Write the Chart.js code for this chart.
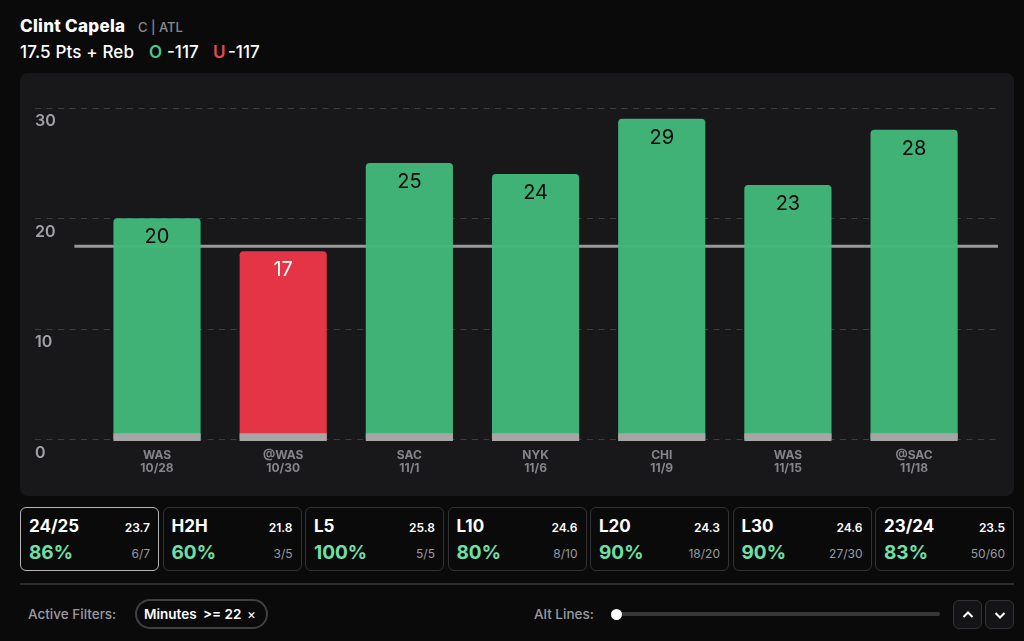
<!DOCTYPE html>
<html>
<head>
<meta charset="utf-8">
<title>Clint Capela</title>
<script src="https://cdn.jsdelivr.net/npm/chart.js@4"></script>
<style>
  html, body { margin: 0; padding: 0; background: #0a0a0b; }
  body { width: 1024px; height: 641px; position: relative; overflow: hidden; font-family: Inter, "Noto Sans", sans-serif; color: #fff; }
  .abs { position: absolute; white-space: nowrap; }
  #name { left: 20px; top: 16px; font-size: 17px; font-weight: 800; line-height: 20px; letter-spacing: 0.3px; }
  #pos { left: 138px; top: 18px; font-size: 13px; font-weight: 500; color: #8a8a90; line-height: 18px; }
  .prop { top: 42px; font-size: 17px; font-weight: 500; line-height: 20px; }
  #panel { left: 20px; top: 73px; width: 994px; height: 423px; background: #18181b; border-radius: 8px; }
  #panel canvas { display: block; }
  #cards { left: 20px; top: 507px; width: 994px; display: flex; justify-content: space-between; }
  .card { box-sizing: border-box; width: 139px; height: 64px; border: 1px solid #333336; border-radius: 6px; position: relative; }
  .card.on { border-color: #b4b4b4; }
  .card .t { position: absolute; left: 8px; top: 7px; font-size: 17px; font-weight: 700; line-height: 22px; }
  .card .a { position: absolute; right: 8px; top: 12px; font-size: 12px; font-weight: 600; line-height: 16px; }
  .card .p { position: absolute; left: 8px; top: 33px; font-size: 19px; font-weight: 700; line-height: 24px; color: #6fe0a6; }
  .card .r { position: absolute; right: 8px; top: 38px; font-size: 12px; color: #9a9aa0; line-height: 16px; }
  #rule { left: 20px; top: 583px; width: 994px; height: 2px; background: #2c2c2f; }
  .lbl { font-size: 13.5px; font-weight: 500; color: #9a9aa0; line-height: 18px; top: 605px; }
  #chip { left: 135px; top: 599px; width: 133px; height: 30px; box-sizing: border-box; border: 2px solid #404044; border-radius: 15px; font-size: 13.5px; font-weight: 600; line-height: 26px; }
  #chip span { position: absolute; top: 0; }
  #track { left: 616px; top: 612px; width: 324px; height: 4px; background: #38383b; border-radius: 2px; }
  #knob { left: 611px; top: 609px; width: 11px; height: 11px; background: #fff; border-radius: 50%; }
  .btn { top: 600px; width: 29px; height: 29px; box-sizing: border-box; border: 1px solid #333336; border-radius: 6px; background: #141416; }
  .btn svg { position: absolute; left: 8px; top: 9px; }
</style>
</head>
<body>
<div class="abs" id="name">Clint Capela</div>
<div class="abs" id="pos">C | ATL</div>
<div class="abs prop" style="left:20px; letter-spacing:0.15px">17.5 Pts + Reb</div>
<div class="abs prop" style="left:149px; color:#4fc78c; font-weight:600">O</div>
<div class="abs prop" style="left:167px">-117</div>
<div class="abs prop" style="left:213px; color:#e5484d; font-weight:600">U</div>
<div class="abs prop" style="left:228px">-117</div>

<div class="abs" id="panel"><canvas id="chart" width="994" height="423"></canvas></div>

<div class="abs" id="cards"></div>
<div class="abs" id="rule"></div>

<div class="abs lbl" style="left:28px">Active Filters:</div>
<div class="abs" id="chip"><span style="left:7px">Minutes</span><span style="left:66px">&gt;= 22</span><span style="left:110px; font-weight:400">×</span></div>
<div class="abs lbl" style="left:534px">Alt Lines:</div>
<div class="abs" id="track"></div>
<div class="abs" id="knob"></div>
<div class="abs btn" style="left:953px"><svg width="12" height="10"><path d="M1.5 7 L6 2.5 L10.5 7" fill="none" stroke="#fff" stroke-width="2"/></svg></div>
<div class="abs btn" style="left:985px"><svg width="12" height="10"><path d="M1.5 3 L6 7.5 L10.5 3" fill="none" stroke="#fff" stroke-width="2"/></svg></div>

<script>
const teams = ['WAS', '@WAS', 'SAC', 'NYK', 'CHI', 'WAS', '@SAC'];
const dates = ['10/28', '10/30', '11/1', '11/6', '11/9', '11/15', '11/18'];
const values = [20, 17, 25, 24, 29, 23, 28];
const propLine = 17.5;
const yTicks = [0, 10, 20, 30];

const cardTitles = ['24/25', 'H2H', 'L5', 'L10', 'L20', 'L30', '23/24'];
const cardAverages = ['23.7', '21.8', '25.8', '24.6', '24.3', '24.6', '23.5'];
const cardPercents = ['86%', '60%', '100%', '80%', '90%', '90%', '83%'];
const cardRecords = ['6/7', '3/5', '5/5', '8/10', '18/20', '27/30', '50/60'];

const cardsEl = document.getElementById('cards');
cardTitles.forEach(function (title, i) {
    const card = document.createElement('div');
    card.className = i === 0 ? 'card on' : 'card';
    card.innerHTML = '<span class="t">' + title + '</span><span class="a">' + cardAverages[i] + '</span>' +
        '<span class="p">' + cardPercents[i] + '</span><span class="r">' + cardRecords[i] + '</span>';
    cardsEl.appendChild(card);
});

// value printed just under the top of each bar
const barLabels = {
    id: 'barLabels',
    afterDatasetsDraw(chart) {
        const ctx = chart.ctx;
        const meta = chart.getDatasetMeta(1);
        ctx.save();
        ctx.font = '400 20px Inter, sans-serif';
        ctx.textAlign = 'center';
        ctx.textBaseline = 'middle';
        meta.data.forEach(function (bar, i) {
            ctx.fillStyle = values[i] > propLine ? '#0a0a0a' : '#ffffff';
            ctx.fillText(values[i], bar.x, bar.y + 18.5);
        });
        ctx.restore();
    }
};

new Chart(document.getElementById('chart'), {
    type: 'bar',
    data: {
        datasets: [
            {
                type: 'line',
                data: [{ x: -0.655, y: propLine }, { x: 6.667, y: propLine }],
                borderColor: '#999999',
                borderWidth: 3,
                pointRadius: 0,
                order: 3
            },
            {
                data: values.map(function (v, i) { return { x: i, y: v }; }),
                backgroundColor: values.map(function (v) { return v > propLine ? 'rgba(66,184,122,0.96)' : 'rgba(232,54,70,0.98)'; }),
                borderRadius: { topLeft: 4, topRight: 4 },
                borderSkipped: 'bottom',
                barThickness: 86.5,
                grouped: false,
                order: 2
            },
            {
                // grey foot along the bottom of each bar
                data: values.map(function (v, i) { return { x: i, y: [-0.1, 0.55] }; }),
                backgroundColor: '#a6a6a6',
                barThickness: 86.5,
                grouped: false,
                clip: false,
                order: 1
            }
        ]
    },
    options: {
        responsive: false,
        animation: false,
        layout: { padding: { left: 15, right: 16, top: 35, bottom: 20 } },
        plugins: { legend: { display: false }, tooltip: { enabled: false } },
        scales: {
            x: {
                type: 'linear',
                offset: false,
                min: -0.967,
                max: 6.665,
                afterBuildTicks(axis) { axis.ticks = teams.map(function (t, i) { return { value: i }; }); },
                grid: { display: false },
                border: { display: false },
                ticks: {
                    autoSkip: false,
                    maxRotation: 0,
                    padding: 1,
                    color: '#85858a',
                    font: { family: 'Inter, sans-serif', size: 12, weight: '700', lineHeight: 1.1 },
                    callback(v) { return [teams[v], dates[v]]; }
                }
            },
            y: {
                min: 0,
                max: 30,
                afterBuildTicks(axis) { axis.ticks = yTicks.map(function (v) { return { value: v }; }); },
                grid: { color: '#3d3d40', lineWidth: 1, drawTicks: false },
                border: { display: false, dash: [6, 5.5] },
                ticks: {
                    mirror: true,
                    padding: 0,
                    color: '#a0a0a6',
                    font: { family: 'Inter, sans-serif', size: 16, weight: '600', lineHeight: 1.7 },
                    // blank first line drops the number below its grid line
                    callback(v) { return ['', String(v)]; }
                }
            }
        }
    },
    plugins: [barLabels]
});
</script>
</body>
</html>
